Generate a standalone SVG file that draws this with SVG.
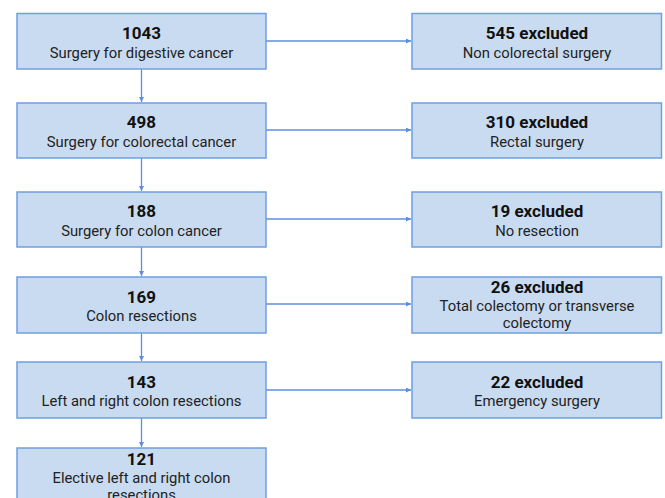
<svg xmlns="http://www.w3.org/2000/svg" width="665" height="498" viewBox="0 0 665 498">
<defs>
<style>
.box{fill:#c9dbf0;stroke:#6e9fe2;stroke-width:1.5}
.n{font-family:Roboto,"Liberation Sans",sans-serif;font-size:17px;font-weight:bold;fill:#111;text-anchor:middle}
.t{font-family:Roboto,"Liberation Sans",sans-serif;font-size:14.8px;fill:#222;text-anchor:middle}
.c{stroke:#5b8ee0;stroke-width:1.3;fill:none;marker-end:url(#ah)}
</style>
<marker id="ah" viewBox="0 0 6 6" refX="6" refY="3" markerWidth="5" markerHeight="5" orient="auto" markerUnits="userSpaceOnUse">
<path d="M0,0 L6,3 L0,6 z" fill="#5b8ee0"/>
</marker>
</defs>
<rect width="665" height="498" fill="#fff"/>
<g id="connectors">
<line class="c" x1="141.5" y1="69" x2="141.5" y2="102"/>
<line class="c" x1="141.5" y1="158" x2="141.5" y2="191"/>
<line class="c" x1="141.5" y1="247" x2="141.5" y2="276"/>
<line class="c" x1="141.5" y1="333" x2="141.5" y2="361"/>
<line class="c" x1="141.5" y1="418" x2="141.5" y2="447"/>
<line class="c" x1="266" y1="41" x2="411" y2="41"/>
<line class="c" x1="266" y1="130" x2="411" y2="130"/>
<line class="c" x1="266" y1="219" x2="411" y2="219"/>
<line class="c" x1="266" y1="304" x2="411" y2="304"/>
<line class="c" x1="266" y1="390" x2="411" y2="390"/>
</g>
<g id="n1043"><rect class="box" x="17" y="13.5" width="249" height="55.5"/><text class="n" x="141.5" y="39">1043</text><text class="t" x="141.5" y="58">Surgery for digestive cancer</text></g>
<g id="n498"><rect class="box" x="17" y="103" width="249" height="55"/><text class="n" x="141.5" y="128">498</text><text class="t" x="141.5" y="147">Surgery for colorectal cancer</text></g>
<g id="n188"><rect class="box" x="17" y="192" width="249" height="55"/><text class="n" x="141.5" y="217">188</text><text class="t" x="141.5" y="236">Surgery for colon cancer</text></g>
<g id="n169"><rect class="box" x="17" y="277" width="249" height="56"/><text class="n" x="141.5" y="303">169</text><text class="t" x="141.5" y="321">Colon resections</text></g>
<g id="n143"><rect class="box" x="17" y="362" width="249" height="56"/><text class="n" x="141.5" y="388">143</text><text class="t" x="141.5" y="406">Left and right colon resections</text></g>
<g id="n121"><rect class="box" x="17" y="448" width="249" height="60"/><text class="n" x="141.5" y="465">121</text><text class="t" x="141.5" y="483">Elective left and right colon</text><text class="t" x="141.5" y="500">resections</text></g>
<g id="x545"><rect class="box" x="412" y="13.5" width="249.5" height="55.5"/><text class="n" x="537" y="39">545 excluded</text><text class="t" x="537" y="58">Non colorectal surgery</text></g>
<g id="x310"><rect class="box" x="412" y="103" width="249.5" height="55"/><text class="n" x="537" y="128">310 excluded</text><text class="t" x="537" y="147">Rectal surgery</text></g>
<g id="x19"><rect class="box" x="412" y="192" width="249.5" height="55"/><text class="n" x="537" y="217">19 excluded</text><text class="t" x="537" y="236">No resection</text></g>
<g id="x26"><rect class="box" x="412" y="277" width="249.5" height="56"/><text class="n" x="537" y="293">26 excluded</text><text class="t" x="537" y="311">Total colectomy or transverse</text><text class="t" x="537" y="328">colectomy</text></g>
<g id="x22"><rect class="box" x="412" y="362" width="249.5" height="56"/><text class="n" x="537" y="388">22 excluded</text><text class="t" x="537" y="406">Emergency surgery</text></g>
</svg>
